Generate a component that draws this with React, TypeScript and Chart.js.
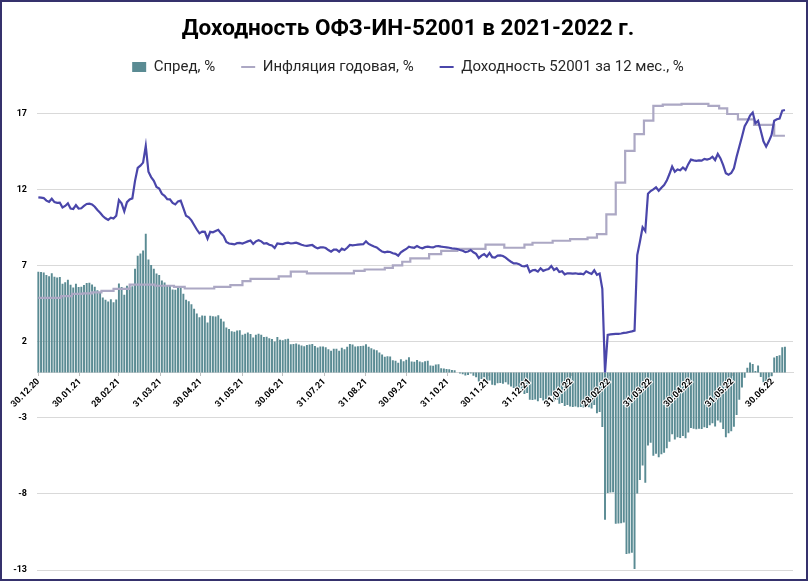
import React, { useEffect, useRef } from 'react';
import { Chart, registerables } from 'chart.js';

Chart.register(...registerables);

const TITLE = 'Доходность ОФЗ-ИН-52001 в 2021-2022 г.';
const SPREAD_LABEL = 'Спред, %';
const INFLATION_LABEL = 'Инфляция годовая, %';
const YIELD_LABEL = 'Доходность 52001 за 12 мес., %';

// Daily series sampled every 2 calendar days starting 30.12.2020
const SERIES_START = '2020-12-30';
const SERIES_STEP_DAYS = 2;

// Доходность 52001 за 12 мес., %
const yieldPct = [
  11.52, 11.5, 11.47, 11.3, 11.22, 11.42, 11.2, 11.15, 11.17, 10.85,
  10.95, 11.12, 10.78, 10.75, 11.0, 10.78, 10.8, 10.95, 11.08, 11.1,
  11.05, 10.9, 10.68, 10.5, 10.29, 10.14, 10.03, 10.18, 10.12, 10.3,
  11.34, 11.12, 10.6, 11.2, 11.38, 11.45, 12.6, 13.45, 13.6, 13.8,
  14.9, 13.2, 12.85, 12.6, 12.2, 12.1, 11.75, 11.62, 11.4, 11.38,
  11.15, 11.05, 11.25, 11.3, 10.8, 10.3, 10.2, 10.0, 9.7, 9.4,
  9.15, 9.26, 9.25, 8.8, 9.25, 9.22, 9.3, 9.38, 9.15, 8.97,
  8.58, 8.48, 8.45, 8.42, 8.5, 8.52, 8.48, 8.55, 8.62, 8.68,
  8.45, 8.62, 8.7, 8.62, 8.48, 8.5, 8.4, 8.35, 8.18, 8.48,
  8.46, 8.44, 8.5, 8.53, 8.48, 8.5, 8.53, 8.47, 8.4, 8.35,
  8.32, 8.36, 8.38, 8.25, 8.16, 8.22, 8.23, 8.18, 8.05, 7.94,
  8.08, 8.08, 7.94, 8.14, 8.05, 8.2, 8.38, 8.36, 8.38, 8.4,
  8.42, 8.43, 8.62, 8.45, 8.36, 8.28, 8.22, 8.08, 7.95, 7.9,
  7.94, 7.92, 7.84, 7.8, 7.68, 7.9, 8.02, 8.12, 8.27, 8.22,
  8.2, 8.32, 8.22, 8.16, 8.24, 8.27, 8.24, 8.22, 8.3, 8.31,
  8.27, 8.25, 8.23, 8.2, 8.16, 8.14, 8.12, 8.05, 8.0, 7.92,
  7.95, 8.05, 7.9, 7.8, 7.52, 7.68, 7.78, 7.62, 7.86, 7.58,
  7.55, 7.68, 7.7, 7.66, 7.55, 7.4, 7.28, 7.17, 7.18, 7.12,
  7.0, 6.98, 7.04, 6.6, 6.72, 6.74, 6.63, 6.85, 6.68, 6.75,
  6.8, 7.0, 6.74, 6.85, 6.6, 6.65, 6.45, 6.52, 6.52, 6.5,
  6.52, 6.48, 6.5, 6.46, 6.65, 6.56, 6.48, 6.72, 6.42, 6.5,
  5.5, 0.0, 2.46, 2.5, 2.52, 2.53, 2.54, 2.56, 2.6, 2.62,
  2.66, 2.7, 2.75, 7.72, 8.6, 9.55, 9.3, 11.75, 11.93, 12.04,
  12.18, 11.95, 12.15, 12.33, 12.62, 13.05, 13.54, 13.2, 13.35, 13.3,
  13.48, 13.32, 13.7, 14.0, 13.95, 13.92, 13.95, 13.93, 14.05, 14.0,
  14.05, 14.19, 13.97, 14.37, 14.08, 13.64, 13.1, 13.0, 13.12, 13.43,
  14.19, 14.85, 15.5, 16.2, 16.5, 16.9, 17.1, 16.39, 16.55, 15.9,
  15.2, 14.85, 15.2, 15.6, 16.55, 16.65, 16.7, 17.22, 17.26,
];

// Спред, %
const spreadPct = [
  6.62, 6.6, 6.57, 6.4, 6.32, 6.52, 6.3, 6.25, 6.27, 5.83,
  5.93, 6.1, 5.76, 5.58, 5.83, 5.61, 5.63, 5.75, 5.88, 5.9,
  5.78, 5.63, 5.41, 5.23, 4.93, 4.78, 4.67, 4.82, 4.62, 4.8,
  5.84, 5.62, 5.1, 5.7, 5.6, 5.67, 6.82, 7.67, 7.82, 8.02,
  9.12, 7.42, 7.07, 6.82, 6.5, 6.4, 6.05, 5.92, 5.7, 5.68,
  5.45, 5.43, 5.63, 5.68, 5.18, 4.78, 4.68, 4.48, 4.18, 3.88,
  3.63, 3.74, 3.73, 3.28, 3.73, 3.7, 3.68, 3.76, 3.53, 3.35,
  2.96, 2.86, 2.71, 2.68, 2.76, 2.78, 2.48, 2.55, 2.62, 2.53,
  2.3, 2.47, 2.55, 2.47, 2.33, 2.35, 2.25, 2.2, 2.03, 2.33,
  2.14, 2.12, 2.18, 2.21, 1.85, 1.87, 1.9, 1.84, 1.77, 1.72,
  1.8, 1.84, 1.86, 1.73, 1.64, 1.7, 1.71, 1.66, 1.53, 1.42,
  1.56, 1.56, 1.42, 1.62, 1.53, 1.68, 1.86, 1.84, 1.7, 1.72,
  1.74, 1.75, 1.85, 1.68, 1.59, 1.51, 1.45, 1.31, 1.18, 1.03,
  1.07, 1.05, 0.8, 0.76, 0.64, 0.86, 0.74, 0.84, 0.99, 0.72,
  0.7, 0.82, 0.72, 0.66, 0.74, 0.77, 0.46, 0.44, 0.52, 0.53,
  0.27, 0.25, 0.23, 0.2, 0.16, 0.14, 0.0, -0.07, -0.12, -0.2,
  -0.17, -0.07, -0.22, -0.32, -0.6, -0.44, -0.34, -0.78, -0.54, -0.82,
  -0.85, -0.72, -0.7, -0.74, -0.65, -0.8, -0.92, -1.03, -1.02, -1.08,
  -1.2, -1.42, -1.36, -1.8, -1.81, -1.79, -1.9, -1.68, -1.85, -1.78,
  -1.73, -1.53, -1.92, -1.81, -2.06, -2.01, -2.21, -2.14, -2.25, -2.27,
  -2.25, -2.29, -2.27, -2.31, -2.12, -2.3, -2.38, -2.14, -2.68, -2.6,
  -3.6, -9.7, -7.94, -7.9, -7.88, -9.95, -9.94, -9.92, -9.88, -11.95,
  -11.91, -11.87, -12.93, -7.96, -7.08, -6.13, -7.26, -4.81, -4.63, -5.49,
  -5.35, -5.58, -5.38, -5.28, -4.99, -4.56, -4.07, -4.41, -4.26, -4.31,
  -4.18, -4.34, -3.96, -3.66, -3.71, -3.74, -3.71, -3.73, -3.61, -3.66,
  -3.48, -3.34, -3.56, -3.16, -3.29, -3.73, -4.27, -4.0, -3.88, -3.57,
  -2.81, -1.8, -1.0, -0.35, 0.3, 0.65, 0.55, 0.1, 0.45, -0.3,
  -0.65, -0.8, -0.6, -0.25, 0.98, 1.08, 1.13, 1.65, 1.69,
];

// Инфляция годовая, % (value valid from the given date)
const inflationDates = [
  '2020-12-30', '2021-01-16', '2021-01-24', '2021-02-01', '2021-02-08', '2021-02-15',
  '2021-02-24', '2021-03-08', '2021-03-27', '2021-04-10', '2021-04-18', '2021-05-10',
  '2021-05-22', '2021-05-31', '2021-06-06', '2021-06-27', '2021-07-06', '2021-07-18',
  '2021-08-22', '2021-08-30', '2021-09-14', '2021-09-20', '2021-09-27', '2021-10-03',
  '2021-10-17', '2021-10-26', '2021-11-07', '2021-11-28', '2021-12-12', '2021-12-27',
  '2022-01-02', '2022-01-17', '2022-01-30', '2022-02-12', '2022-02-19', '2022-02-26',
  '2022-03-05', '2022-03-12', '2022-03-19', '2022-03-26', '2022-04-02', '2022-04-09',
  '2022-04-23', '2022-05-13', '2022-05-21', '2022-05-27', '2022-06-04', '2022-06-16',
  '2022-07-01', '2022-07-09',
];
const inflationPct = [
  4.9, 5.02, 5.17, 5.2, 5.27, 5.36,
  5.5, 5.78, 5.7, 5.62, 5.52, 5.62,
  5.74, 6.0, 6.15, 6.32, 6.63, 6.52,
  6.68, 6.77, 6.87, 7.04, 7.28, 7.5,
  7.78, 8.0, 8.12, 8.4, 8.2, 8.4,
  8.53, 8.66, 8.77, 8.86, 9.1, 10.4,
  12.48, 14.57, 15.68, 16.56, 17.53, 17.61,
  17.66, 17.53, 17.37, 17.0, 16.65, 16.28,
  15.57, 15.57,
];

const xTickLabels = [
  '30.12.20', '30.01.21', '28.02.21', '31.03.21', '30.04.21', '31.05.21', '30.06.21',
  '31.07.21', '31.08.21', '30.09.21', '31.10.21', '30.11.21', '31.12.21', '31.01.22',
  '28.02.22', '31.03.22', '30.04.22', '31.05.22', '30.06.22',
];
const yTickValues = [-13, -8, -3, 2, 7, 12, 17];

const DAY_MS = 86400000;
const T0 = Date.parse(SERIES_START + 'T00:00:00Z');
const isoToDay = (s: string) => Math.round((Date.parse(s + 'T00:00:00Z') - T0) / DAY_MS);
const ddmmyyToDay = (s: string) => {
  const [d, m, y] = s.split('.');
  return isoToDay(`20${y}-${m}-${d}`);
};

const COLORS = {
  spread: '#5a8b93',
  inflation: '#aca8c4',
  yield: '#4a46aa',
  grid: '#d9d9d9',
  frame: '#35316c',
};

const framePlugin = {
  id: 'frame',
  beforeDraw(chart: any) {
    const { ctx, width, height } = chart;
    ctx.save();
    ctx.fillStyle = '#ffffff';
    ctx.fillRect(0, 0, width, height);
    ctx.restore();
  },
  afterDraw(chart: any) {
    const { ctx, width, height } = chart;
    ctx.save();
    ctx.strokeStyle = COLORS.frame;
    ctx.lineWidth = 2;
    ctx.strokeRect(1, 1, width - 4, height - 2);
    ctx.restore();
  },
};

export default function App() {
  const canvasRef = useRef<HTMLCanvasElement | null>(null);

  useEffect(() => {
    if (!canvasRef.current) return;
    const seriesDays = yieldPct.map((_, i) => i * SERIES_STEP_DAYS);
    const xTickDays = xTickLabels.map(ddmmyyToDay);

    const chart = new Chart(canvasRef.current, {
      type: 'bar',
      data: {
        datasets: [
          {
            type: 'bar',
            label: SPREAD_LABEL,
            data: spreadPct.map((v, i) => ({ x: seriesDays[i], y: v })),
            backgroundColor: COLORS.spread,
            borderWidth: 0,
            pointStyle: 'rect',
            order: 2,
          } as any,
          {
            type: 'line',
            label: INFLATION_LABEL,
            data: inflationDates.map((d, i) => ({ x: isoToDay(d), y: inflationPct[i] })),
            borderColor: COLORS.inflation,
            backgroundColor: COLORS.inflation,
            borderWidth: 2.2,
            stepped: true,
            pointRadius: 0,
            pointStyle: 'line',
            fill: false,
            order: 1,
          } as any,
          {
            type: 'line',
            label: YIELD_LABEL,
            data: yieldPct.map((v, i) => ({ x: seriesDays[i], y: v })),
            borderColor: COLORS.yield,
            backgroundColor: COLORS.yield,
            borderWidth: 2.2,
            tension: 0,
            pointRadius: 0,
            pointStyle: 'line',
            fill: false,
            order: 0,
          } as any,
        ],
      },
      options: {
        responsive: false,
        animation: false,
        events: [],
        layout: { padding: { top: 0, right: 0, bottom: 11, left: 6 } },
        plugins: {
          title: {
            display: true,
            text: TITLE,
            color: '#000000',
            font: { family: 'Roboto', size: 22.5, weight: 'bold' },
            padding: { top: 16.3, bottom: -9.8 },
          },
          legend: {
            display: true,
            position: 'top',
            labels: {
              usePointStyle: true,
              pointStyleWidth: 14,
              boxHeight: 10,
              padding: 26,
              color: '#262626',
              font: { family: 'Roboto', size: 15 },
              sort: (a: any, b: any) => a.datasetIndex - b.datasetIndex,
            },
          },
          tooltip: { enabled: false },
        },
        scales: {
          x: {
            type: 'linear',
            position: { y: 0 } as any,
            offset: false,
            min: -1,
            max: 562,
            afterBuildTicks: (axis: any) => {
              axis.ticks = xTickDays.map((v) => ({ value: v }));
            },
            afterFit: (axis: any) => {
              axis.paddingLeft = 0;
              axis.paddingRight = 0;
              axis.paddingTop = 0;
              axis.paddingBottom = 0;
            },
            grid: {
              display: true,
              offset: false,
              drawOnChartArea: false,
              drawTicks: true,
              tickLength: 3,
              tickColor: '#bfbfbf',
            },
            border: { display: true, color: COLORS.grid, width: 1 },
            ticks: {
              autoSkip: false,
              minRotation: 45,
              maxRotation: 45,
              padding: 1,
              color: '#000000',
              font: { family: 'Roboto', size: 9, weight: 'bold' },
              textStrokeColor: '#ffffff',
              textStrokeWidth: 2,
              z: 1,
              callback: (_v: any, i: number) => xTickLabels[i],
            },
          },
          y: {
            type: 'linear',
            position: 'left',
            min: -13,
            max: 18.94,
            afterBuildTicks: (axis: any) => {
              axis.ticks = yTickValues.map((v) => ({ value: v }));
            },
            afterFit: (axis: any) => {
              axis.width = 31;
              axis.paddingTop = 0;
              axis.paddingBottom = 0;
            },
            grid: { color: COLORS.grid, lineWidth: 1, drawTicks: false },
            border: { display: false },
            ticks: {
              padding: 10,
              color: '#000000',
              font: { family: 'Roboto', size: 9, weight: 'bold' },
              callback: (v: any) => String(v),
            },
          },
          // empty right margin axis (keeps plot area clear of the right frame)
          yRight: {
            type: 'linear',
            position: 'right',
            display: true,
            grid: { display: false, drawTicks: false },
            border: { display: false },
            ticks: { display: false },
            afterFit: (axis: any) => {
              axis.width = 17;
              axis.paddingTop = 0;
              axis.paddingBottom = 0;
            },
          },
        },
      } as any,
      plugins: [framePlugin],
    });

    return () => chart.destroy();
  }, []);

  return (
    <div style={{ position: 'fixed', left: 0, top: 0, width: 810, height: 581, background: '#ffffff' }}>
      <canvas ref={canvasRef} width={810} height={581} style={{ display: 'block' }} />
    </div>
  );
}
